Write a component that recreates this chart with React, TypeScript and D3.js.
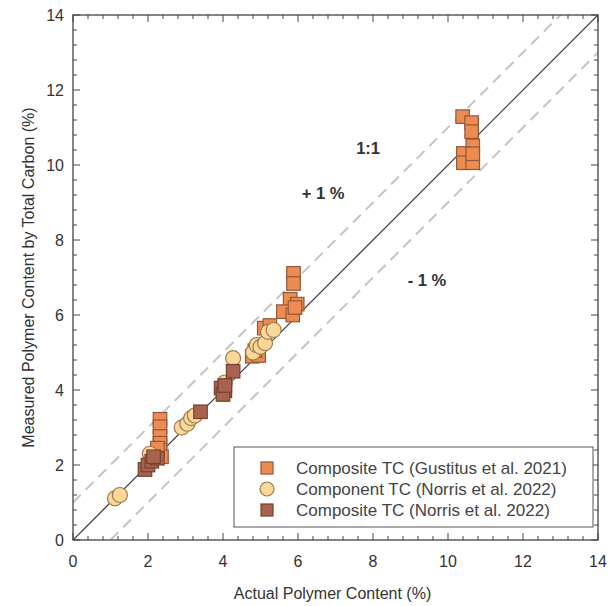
import React from "react";
import * as d3 from "d3";

const gustitusX = [10.39, 10.63, 10.63, 10.66, 10.41, 10.41, 10.66, 10.66, 5.88, 5.88, 5.79, 5.98, 5.61, 5.86, 5.92, 5.1, 5.25, 4.78, 4.95, 4.85, 2.32, 2.32, 2.32, 2.32, 2.32, 2.36, 2.25];
const gustitusY = [11.29, 11.13, 10.89, 10.51, 10.31, 10.06, 10.06, 10.3, 7.11, 6.84, 6.42, 6.29, 6.09, 6.0, 6.2, 5.65, 5.72, 4.9, 4.92, 5.05, 3.22, 3.02, 2.76, 2.58, 2.4, 2.22, 2.45];

const componentX = [1.12, 1.25, 2.05, 2.12, 2.9, 3.05, 3.15, 3.25, 4.05, 4.27, 4.8, 4.9, 5.0, 5.12, 5.2, 5.35];
const componentY = [1.11, 1.2, 2.3, 2.15, 3.0, 3.1, 3.25, 3.32, 4.2, 4.85, 5.0, 5.2, 5.15, 5.25, 5.55, 5.6];

const norrisX = [1.92, 2.0, 2.1, 2.25, 2.15, 3.4, 3.95, 4.05, 4.0, 4.05, 4.27];
const norrisY = [1.88, 2.0, 2.1, 2.18, 2.22, 3.42, 4.05, 3.98, 3.88, 4.12, 4.5];

const majorTicks = [0, 2, 4, 6, 8, 10, 12, 14];
const legendLabels = [
  "Composite TC (Gustitus et al. 2021)",
  "Component TC (Norris et al. 2022)",
  "Composite TC (Norris et al. 2022)",
];
const annotations = [
  { text: "1:1", x: 7.87, y: 10.45 },
  { text: "+ 1 %", x: 6.67, y: 9.25 },
  { text: "- 1 %", x: 9.44, y: 6.94 },
];

const W = 609, H = 606;
const L = 73, T = 15, S = 525;

export default function App() {
  const x = d3.scaleLinear().domain([0, 14]).range([L, L + S]);
  const y = d3.scaleLinear().domain([0, 14]).range([T + S, T]);
  const minor = d3.range(0, 14.001, 0.4);
  const font = "Arial, 'Liberation Sans', sans-serif";
  const sq = 13.5;
  const gFill = "#EC8C52", gStroke = "#93583A";
  const cFill = "#FBD89A", cStroke = "#9C7A48";
  const nFill = "#A8624F", nStroke = "#74432F";

  const line = (off: number) => {
    const x0 = Math.max(0, -off), x1 = Math.min(14, 14 - off);
    return { x1: x(x0), y1: y(x0 + off), x2: x(x1), y2: y(x1 + off) };
  };

  return (
    <svg width={W} height={H} style={{ position: "absolute", left: 0, top: 0, background: "#fff" }}>
      <defs>
        <clipPath id="plot"><rect x={L} y={T} width={S} height={S} /></clipPath>
      </defs>
      <rect x={0} y={0} width={W} height={H} fill="#fff" />
      <g clipPath="url(#plot)">
        <line {...line(1)} stroke="#c4c4c4" strokeWidth={2} strokeDasharray="11 7" />
        <line {...line(-1)} stroke="#c4c4c4" strokeWidth={2} strokeDasharray="11 7" />
        <line {...line(0)} stroke="#333" strokeWidth={1.2} />
      </g>
      {minor.map((v, i) => {
        const isMajor = Math.abs(v / 2 - Math.round(v / 2)) < 1e-6;
        const len = isMajor ? 7 : 4;
        return (
          <g key={i} stroke="#444" strokeWidth={1}>
            <line x1={x(v)} x2={x(v)} y1={T + S} y2={T + S - len} />
            <line x1={x(v)} x2={x(v)} y1={T} y2={T + len} />
            <line y1={y(v)} y2={y(v)} x1={L} x2={L + len} />
            <line y1={y(v)} y2={y(v)} x1={L + S} x2={L + S - len} />
          </g>
        );
      })}
      {gustitusX.map((v, i) => (
        <rect key={"g" + i} x={x(v) - sq / 2} y={y(gustitusY[i]) - sq / 2} width={sq} height={sq} fill={gFill} stroke={gStroke} strokeWidth={1.2} />
      ))}
      {componentX.map((v, i) => (
        <circle key={"c" + i} cx={x(v)} cy={y(componentY[i])} r={7.5} fill={cFill} stroke={cStroke} strokeWidth={1.2} />
      ))}
      {norrisX.map((v, i) => (
        <rect key={"n" + i} x={x(v) - sq / 2} y={y(norrisY[i]) - sq / 2} width={sq} height={sq} fill={nFill} stroke={nStroke} strokeWidth={1.2} />
      ))}
      {annotations.map((a, i) => (
        <text key={i} x={x(a.x)} y={y(a.y)} textAnchor="middle" dominantBaseline="central" fontFamily={font} fontSize={16.5} fontWeight="bold" fill="#333">{a.text}</text>
      ))}
      <rect x={L} y={T} width={S} height={S} fill="none" stroke="#444" strokeWidth={1.3} />
      {majorTicks.map((v) => (
        <text key={"xt" + v} x={x(v)} y={T + S + 21} textAnchor="middle" dominantBaseline="central" fontFamily={font} fontSize={16} fill="#333">{v}</text>
      ))}
      {majorTicks.map((v) => (
        <text key={"yt" + v} x={L - 9} y={y(v)} textAnchor="end" dominantBaseline="central" fontFamily={font} fontSize={16} fill="#333">{v}</text>
      ))}
      <text x={L + S / 2 - 3} y={593} textAnchor="middle" dominantBaseline="central" fontFamily={font} fontSize={16} fill="#333">Actual Polymer Content (%)</text>
      <text transform={`translate(28,${T + S / 2}) rotate(-90)`} textAnchor="middle" dominantBaseline="central" fontFamily={font} fontSize={16} fill="#333">Measured Polymer Content by Total Carbon (%)</text>
      <rect x={234} y={447} width={359} height={80} fill="#fff" stroke="#555" strokeWidth={1} />
      {legendLabels.map((lab, i) => {
        const cy = 468 + i * 21;
        return (
          <g key={"l" + i}>
            {i === 1 ? (
              <circle cx={267} cy={cy} r={7} fill={cFill} stroke={cStroke} strokeWidth={1.2} />
            ) : (
              <rect x={261} y={cy - 6} width={12} height={12} fill={i === 0 ? gFill : nFill} stroke={i === 0 ? gStroke : nStroke} strokeWidth={1.2} />
            )}
            <text x={296} y={cy} dominantBaseline="central" fontFamily={font} fontSize={17} fill="#444">{lab}</text>
          </g>
        );
      })}
    </svg>
  );
}
